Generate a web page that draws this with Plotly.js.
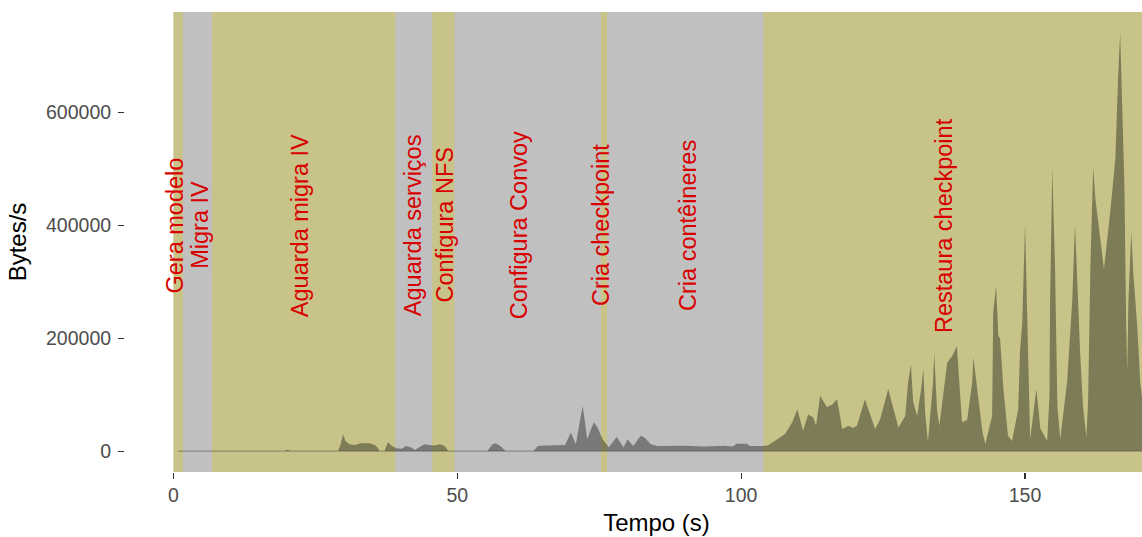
<!DOCTYPE html>
<html>
<head>
<meta charset="utf-8">
<script src="https://cdn.plot.ly/plotly-3.0.1.min.js"></script>
<style>
  html, body { margin: 0; padding: 0; overflow: hidden; background: #ffffff; width: 1142px; height: 537px; }
  #chart { width: 1190px; height: 537px; }
</style>
</head>
<body>
<div id="chart"></div>
<script>
// ---- Data ----
const phase_names = ["Gera modelo", "Migra IV", "Aguarda migra IV", "Aguarda serviços", "Configura NFS",
                     "Configura Convoy", "Cria checkpoint", "Cria contêineres", "Restaura checkpoint"];
const phase_start = [0, 1.7, 6.8, 39.1, 45.6, 49.5, 75.3, 76.4, 103.9];
const phase_end   = [1.7, 6.8, 39.1, 45.6, 49.5, 75.3, 76.4, 103.9, 171];
const label_time  = [0.35, 4.8, 22.3, 42.2, 47.9, 60.9, 75.3, 90.6, 135.7];
const label_value = 400000;

const time_s = [0.8, 19.6, 20.1, 20.6, 29.0, 29.4, 29.9, 30.3, 31.0, 32.0,
  33.0, 34.5, 35.5, 36.0, 36.3, 37.2, 37.8, 38.5, 39.3, 40.2,
  41.0, 42.0, 42.5, 43.2, 44.2, 45.0, 46.0, 47.0, 47.8, 48.4,
  55.3, 56.2, 56.8, 57.7, 58.5, 63.4, 64.2, 65.5, 67.0, 69.0,
  70.0, 70.9, 71.6, 72.1, 72.5, 72.9, 73.5, 74.1, 74.7, 75.6,
  76.7, 78.1, 79.3, 80.0, 81.0, 82.3, 83.0, 84.1, 85.3, 87.0,
  90.0, 93.5, 95.0, 97.0, 98.5, 99.2, 101.0, 101.5, 103.3, 104.5,
  105.1, 106.3, 107.7, 109.0, 109.9, 110.9, 111.8, 112.7, 113.2, 113.9,
  115.1, 116.0, 116.9, 117.8, 118.9, 119.7, 120.4, 121.8, 123.6, 124.5,
  125.9, 127.7, 128.9, 129.4, 129.9, 130.3, 131.0, 131.7, 132.1, 132.4,
  132.9, 133.8, 134.0, 134.5, 134.9, 136.3, 137.2, 138.0, 138.4, 138.9,
  139.8, 140.7, 140.9, 141.6, 142.5, 143.0, 144.2, 144.4, 144.9, 145.3,
  145.6, 146.2, 147.0, 147.7, 148.8, 149.1, 149.5, 150.0, 150.6, 150.9,
  152.0, 152.7, 153.9, 154.3, 154.4, 154.8, 155.3, 155.7, 156.2, 157.4,
  158.3, 158.8, 159.7, 160.2, 160.8, 161.1, 161.5, 162.0, 162.4, 163.2,
  163.9, 165.0, 165.9, 166.4, 166.75, 167.1, 167.5, 167.8, 168.0, 168.2,
  168.7, 169.1, 169.8, 170.3, 170.6, 171.0];

const bytes_per_s = [0, 0, 2500, 0, 0, 10000, 30000, 18000, 12000, 11000,
  14000, 14000, 11000, 6000, 0, 0, 16000, 9000, 5000, 4000,
  9000, 6000, 2000, 6000, 12000, 11000, 10000, 12000, 9000, 0,
  0, 12000, 14000, 8000, 0, 0, 9000, 10000, 10000, 11000,
  33000, 12000, 53000, 80000, 51000, 21000, 38000, 51000, 42000, 21000,
  7000, 25000, 7000, 21000, 9000, 27000, 24000, 12000, 9000, 9000,
  9500, 8000, 9000, 9500, 8000, 13000, 13000, 9000, 9000, 9400,
  12400, 21000, 30000, 51000, 74000, 36000, 65000, 60000, 45000, 98000,
  78000, 82000, 92000, 39000, 45000, 41000, 45000, 92000, 39000, 57000,
  110000, 42000, 62000, 122000, 154000, 87000, 62000, 110000, 145000, 69000,
  16000, 122000, 175000, 74000, 45000, 157000, 169000, 186000, 122000, 51000,
  55000, 122000, 166000, 110000, 34000, 12400, 62000, 246000, 293000, 204000,
  200000, 110000, 27000, 18000, 74000, 175000, 225000, 402000, 140000, 21000,
  110000, 40000, 18000, 97000, 257000, 502000, 317000, 80000, 21000, 122000,
  264000, 402000, 175000, 80000, 25000, 87000, 322000, 502000, 446000, 381000,
  322000, 423000, 517000, 664000, 741000, 617000, 470000, 234000, 140000, 264000,
  388000, 310000, 216000, 120000, 95000, 90000];

const x_ticks = [0, 50, 100, 150];
const y_ticks = [0, 200000, 400000, 600000];

// ---- Styles ----
const OLIVE = "#c8c489";
const GREY = "#c0c0c0";
const FONT = "Liberation Sans, Arial, sans-serif";

// one olive band under everything, grey phases drawn on top (no white seams)
const shapes = [{
  type: "rect", xref: "x", yref: "paper",
  x0: phase_start[0], x1: phase_end[phase_end.length - 1], y0: 0, y1: 1,
  fillcolor: OLIVE, line: { width: 0 }, layer: "below"
}].concat(phase_names.map((n, i) => ({
  type: "rect", xref: "x", yref: "paper",
  x0: phase_start[i], x1: phase_end[i], y0: 0, y1: 1,
  fillcolor: i % 2 === 0 ? OLIVE : GREY,
  line: { width: 0 }, layer: "below"
})).filter((s, i) => i % 2 === 1));

const annotations = phase_names.map((n, i) => ({
  text: n, x: label_time[i], y: label_value, xref: "x", yref: "y",
  showarrow: false, textangle: -90, xanchor: "center", yanchor: "middle",
  font: { family: FONT, size: 23.5, color: "#d80000" }
}));

const traces = [
  {
    x: time_s, y: bytes_per_s, type: "scatter", mode: "lines",
    fill: "tozeroy", fillcolor: "rgba(0,0,0,0.37)",
    line: { width: 0, color: "rgba(0,0,0,0)" }, hoverinfo: "skip"
  },
  {
    x: [time_s[0], time_s[time_s.length - 1]], y: [0, 0],
    type: "scatter", mode: "lines",
    line: { width: 1.2, color: "rgba(70,70,70,0.45)" }, hoverinfo: "skip"
  }
];

const layout = {
  width: 1190, height: 537,
  margin: { l: 125, r: 2, t: 12, b: 65 },
  paper_bgcolor: "#ffffff", plot_bgcolor: "#ffffff",
  showlegend: false,
  shapes: shapes,
  annotations: annotations,
  xaxis: {
    range: [-8.51, 178.7], tickvals: x_ticks, ticktext: x_ticks.map(String),
    ticks: "outside", ticklen: 6, tickwidth: 1.1, tickcolor: "#333333",
    showgrid: false, zeroline: false, showline: false,
    tickfont: { family: FONT, size: 19.5, color: "#4d4d4d" },
    title: { text: "Tempo (s)", font: { family: FONT, size: 24, color: "#000000" }, standoff: 8 }
  },
  yaxis: {
    range: [-37000, 777500], tickvals: y_ticks, ticktext: y_ticks.map(String),
    ticks: "outside", ticklen: 6, tickwidth: 1.1, tickcolor: "#333333",
    ticklabelstandoff: 3,
    showgrid: false, zeroline: false, showline: false,
    tickfont: { family: FONT, size: 19.5, color: "#4d4d4d" },
    title: { text: "Bytes/s", font: { family: FONT, size: 24, color: "#000000" }, standoff: 12 }
  }
};

Plotly.newPlot("chart", traces, layout, { displayModeBar: false, staticPlot: true });
</script>
</body>
</html>
